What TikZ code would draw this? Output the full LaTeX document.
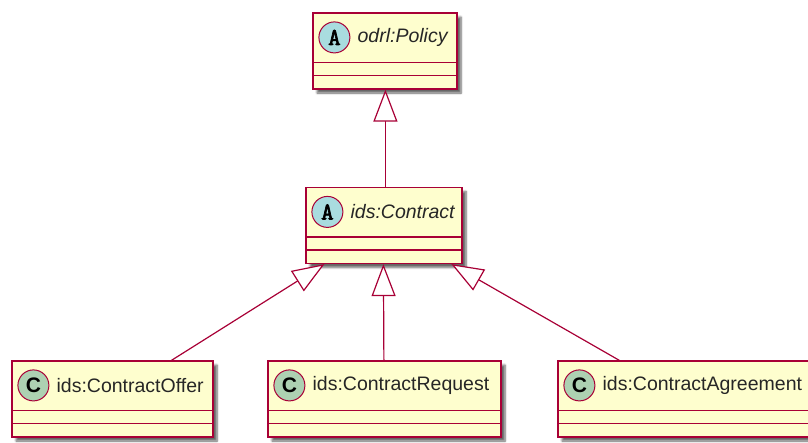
\documentclass[tikz,border=0pt]{standalone}
\usepackage{fontspec}
\setmainfont{Liberation Sans}
\newfontfamily\monob[FakeBold=3]{Latin Modern Mono}
\usetikzlibrary{arrows.meta,shadows.blur}
\definecolor{umlred}{HTML}{A80036}
\definecolor{umlfill}{HTML}{FEFECE}
\definecolor{absc}{HTML}{A9DCDF}
\definecolor{clsc}{HTML}{ADD1B2}
\tikzset{
  umlbox/.style={draw=umlred, fill=umlfill, line width=1.2pt, minimum height=76pt, inner sep=0pt,
    blur shadow={shadow xshift=4pt, shadow yshift=-4pt, shadow blur steps=6, shadow opacity=60}},
  compline/.style={draw=umlred, line width=1.2pt},
  badge/.style={circle, draw=umlred, line width=1pt, minimum size=31pt, inner sep=0pt},
  abadge/.style={badge, fill=absc, font=\monob\fontsize{24}{26}\selectfont},
  cbadge/.style={badge, fill=clsc, font=\bfseries\fontsize{21}{24}\selectfont},
  clname/.style={anchor=west, inner sep=0pt, text=black!85, font=\fontsize{19.5}{23}\selectfont},
  abname/.style={clname, font=\itshape\fontsize{19.5}{23}\selectfont},
  inh/.style={draw=umlred, line width=1.2pt, -{Triangle[length=32pt, width=24pt, fill=white]}}
}
% #1 name, #2 x, #3 y, #4 width, #5 badge style, #6 letter, #7 name style, #8 label
\newcommand\umlcls[8]{%
  \node[umlbox, minimum width=#4pt] (#1) at (#2,#3) {};
  \draw[compline] ([yshift=-50pt]#1.north west) -- ([yshift=-50pt]#1.north east);
  \draw[compline] ([yshift=-63pt]#1.north west) -- ([yshift=-63pt]#1.north east);
  \node[#5] (#1c) at ([xshift=22pt,yshift=-25pt]#1.north west) {#6};
  \node[#7] (#1t) at ([xshift=45pt,yshift=-25pt]#1.north west) {#8};
}
\begin{document}
\begin{tikzpicture}[x=1pt, y=-1pt]
  \useasboundingbox (0,0) rectangle (808,442);
  \umlcls{pol}{385}{51}{144}{abadge}{A}{abname}{odrl:Policy}
  \umlcls{con}{384}{225.5}{156}{abadge}{A}{abname}{ids:Contract}
  \umlcls{off}{112.5}{399}{201}{cbadge}{C}{clname}{ids:ContractOffer}
  \umlcls{req}{384.5}{399}{233}{cbadge}{C}{clname}{ids:ContractRequest}
  \umlcls{agr}{686}{399}{256}{cbadge}{C}{clname}{ids:ContractAgreement}
  \draw[inh] ([xshift=80pt]con.north west) -- ([xshift=73pt]pol.south west);
  \draw[inh] ([xshift=160pt]off.north west) -- ([xshift=19pt]con.south west);
  \draw[inh] ([xshift=116.5pt]req.north west) -- ([xshift=78pt]con.south west);
  \draw[inh] ([xshift=62pt]agr.north west) -- ([xshift=146pt]con.south west);
\end{tikzpicture}
\end{document}
